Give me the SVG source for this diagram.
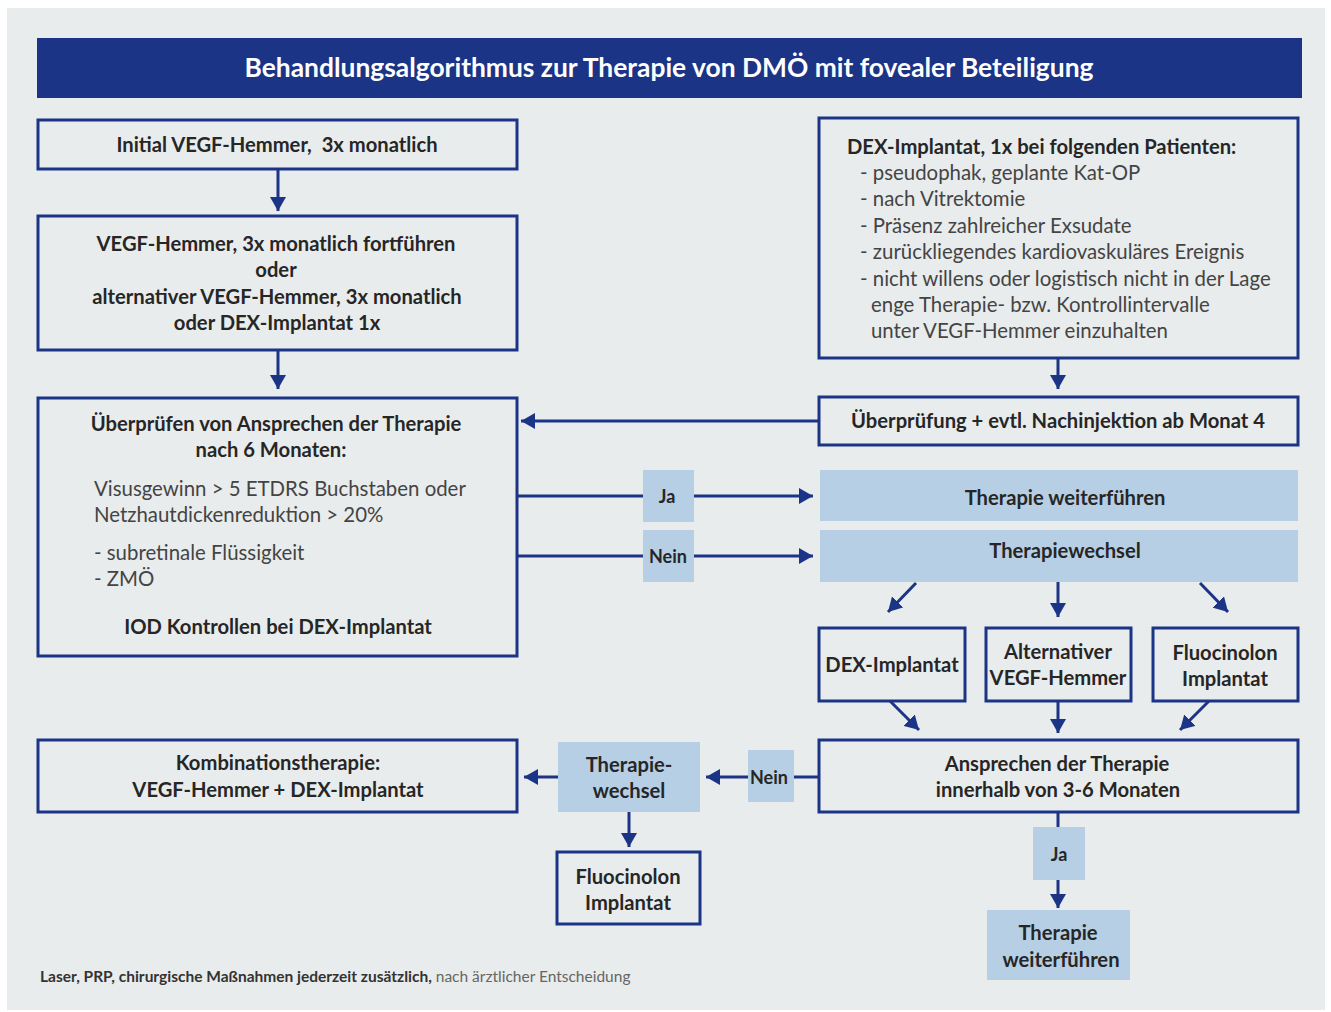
<svg xmlns="http://www.w3.org/2000/svg" width="1331" height="1012" viewBox="0 0 1331 1012">
<defs>
<marker id="ah" viewBox="0 0 14 16" refX="14" refY="8" markerWidth="14" markerHeight="16" markerUnits="userSpaceOnUse" orient="auto">
<path d="M0,0 L14,8 L0,16 Z" fill="#1b3486"/>
</marker>
<style>
.box{fill:none;stroke:#1b3486;stroke-width:3}
.lt{fill:#b6cfe4}
.c{stroke:#1b3486;stroke-width:3;fill:none}
.ca{stroke:#1b3486;stroke-width:3;fill:none;marker-end:url(#ah)}
.b{font-family:Lato,"Open Sans",sans-serif;font-weight:bold;font-size:20.2px;fill:#262626;text-anchor:middle}
.sm{font-size:18px}
.r{font-family:Lato,"Open Sans",sans-serif;font-size:20.4px;fill:#444}
</style>
</defs>
<rect x="0" y="0" width="1331" height="1012" fill="#ffffff"/>
<rect x="7" y="8" width="1318" height="1002" fill="#e9ecec"/>

<g id="title">
<rect x="37" y="38" width="1265" height="60" fill="#1b3486"/>
<text x="669" y="77" font-family="Lato,'Open Sans',sans-serif" font-weight="bold" font-size="26.4" fill="#ffffff" text-anchor="middle">Behandlungsalgorithmus zur Therapie von DMÖ mit fovealer Beteiligung</text>
</g>

<g id="connectors">
<line class="ca" x1="278" y1="169" x2="278" y2="211"/>
<line class="ca" x1="278" y1="350" x2="278" y2="389"/>
<line class="ca" x1="1058" y1="358" x2="1058" y2="389"/>
<line class="ca" x1="819" y1="421" x2="521" y2="421"/>
<line class="c" x1="517" y1="496" x2="643" y2="496"/>
<line class="ca" x1="694" y1="496" x2="813" y2="496"/>
<line class="c" x1="517" y1="556" x2="643" y2="556"/>
<line class="ca" x1="694" y1="556" x2="813" y2="556"/>
<line class="ca" x1="916" y1="583" x2="888" y2="612"/>
<line class="ca" x1="1058" y1="582" x2="1058" y2="617"/>
<line class="ca" x1="1200" y1="583" x2="1228" y2="612"/>
<line class="ca" x1="890" y1="701" x2="919" y2="730"/>
<line class="ca" x1="1058" y1="701" x2="1058" y2="733"/>
<line class="ca" x1="1209" y1="701" x2="1180" y2="730"/>
<line class="c" x1="819" y1="777" x2="794" y2="777"/>
<line class="ca" x1="748" y1="777" x2="706" y2="777"/>
<line class="ca" x1="558" y1="777" x2="524" y2="777"/>
<line class="ca" x1="629" y1="812" x2="629" y2="847"/>
<line class="c" x1="1058" y1="812" x2="1058" y2="827"/>
<line class="ca" x1="1058" y1="880" x2="1058" y2="908"/>
</g>

<g id="n-initial">
<rect class="box" x="38" y="120" width="479" height="49"/>
<text class="b" x="277" y="152">Initial VEGF-Hemmer,&#160; 3x monatlich</text>
</g>

<g id="n-continue">
<rect class="box" x="38" y="216" width="479" height="134"/>
<text class="b" x="276" y="251">VEGF-Hemmer, 3x monatlich fortführen</text>
<text class="b" x="276" y="277">oder</text>
<text class="b" x="277" y="304">alternativer VEGF-Hemmer, 3x monatlich</text>
<text class="b" x="277" y="330">oder DEX-Implantat 1x</text>
</g>

<g id="n-check6">
<rect class="box" x="38" y="398" width="479" height="258"/>
<text class="b" x="276" y="431">Überprüfen von Ansprechen der Therapie</text>
<text class="b" x="271" y="457">nach 6 Monaten:</text>
<text class="r" x="94" y="496">Visusgewinn &gt; 5 ETDRS Buchstaben oder</text>
<text class="r" x="94" y="522">Netzhautdickenreduktion &gt; 20%</text>
<text class="r" x="94" y="560">- subretinale Flüssigkeit</text>
<text class="r" x="94" y="586">- ZMÖ</text>
<text class="b" x="278" y="634">IOD Kontrollen bei DEX-Implantat</text>
</g>

<g id="n-dex-patients">
<rect class="box" x="819" y="118" width="479" height="240"/>
<text class="b" x="847" y="154" style="text-anchor:start">DEX-Implantat, 1x bei folgenden Patienten:</text>
<text class="r" x="860" y="180">- pseudophak, geplante Kat-OP</text>
<text class="r" x="860" y="206">- nach Vitrektomie</text>
<text class="r" x="860" y="233">- Präsenz zahlreicher Exsudate</text>
<text class="r" x="860" y="259">- zurückliegendes kardiovaskuläres Ereignis</text>
<text class="r" x="860" y="286">- nicht willens oder logistisch nicht in der Lage</text>
<text class="r" x="871" y="312">enge Therapie- bzw. Kontrollintervalle</text>
<text class="r" x="871" y="338">unter VEGF-Hemmer einzuhalten</text>
</g>

<g id="n-review4">
<rect class="box" x="819" y="397" width="479" height="48"/>
<text class="b" x="1058" y="428">Überprüfung + evtl. Nachinjektion ab Monat 4</text>
</g>

<g id="l-ja1">
<rect class="lt" x="643" y="470" width="51" height="52"/>
<text class="b sm" x="667" y="503">Ja</text>
</g>
<g id="l-nein1">
<rect class="lt" x="643" y="530" width="51" height="52"/>
<text class="b sm" x="668" y="563">Nein</text>
</g>

<g id="n-continue-therapy">
<rect class="lt" x="820" y="470" width="478" height="51"/>
<text class="b" x="1065" y="505">Therapie weiterführen</text>
</g>

<g id="n-switch">
<rect class="lt" x="820" y="530" width="478" height="52"/>
<text class="b" x="1065" y="558">Therapiewechsel</text>
</g>

<g id="n-dex">
<rect class="box" x="819" y="628" width="146" height="73"/>
<text class="b" x="892" y="672">DEX-Implantat</text>
</g>
<g id="n-alt">
<rect class="box" x="986" y="628" width="145" height="73"/>
<text class="b" x="1058" y="659">Alternativer</text>
<text class="b" x="1058" y="685">VEGF-Hemmer</text>
</g>
<g id="n-fluo1">
<rect class="box" x="1153" y="628" width="145" height="73"/>
<text class="b" x="1225" y="660">Fluocinolon</text>
<text class="b" x="1225" y="686">Implantat</text>
</g>

<g id="n-response">
<rect class="box" x="819" y="740" width="479" height="72"/>
<text class="b" x="1057" y="771">Ansprechen der Therapie</text>
<text class="b" x="1058" y="797">innerhalb von 3-6 Monaten</text>
</g>

<g id="l-nein2">
<rect class="lt" x="748" y="750" width="46" height="52"/>
<text class="b sm" x="769" y="784">Nein</text>
</g>

<g id="n-switch2">
<rect class="lt" x="558" y="742" width="142" height="70"/>
<text class="b" x="629" y="772">Therapie-</text>
<text class="b" x="629" y="798">wechsel</text>
</g>

<g id="n-combo">
<rect class="box" x="38" y="740" width="479" height="72"/>
<text class="b" x="278" y="770">Kombinationstherapie:</text>
<text class="b" x="278" y="797">VEGF-Hemmer + DEX-Implantat</text>
</g>

<g id="n-fluo2">
<rect class="box" x="557" y="852" width="143" height="72"/>
<text class="b" x="628" y="884">Fluocinolon</text>
<text class="b" x="628" y="910">Implantat</text>
</g>

<g id="l-ja2">
<rect class="lt" x="1033" y="827" width="52" height="53"/>
<text class="b sm" x="1059" y="861">Ja</text>
</g>

<g id="n-continue2">
<rect class="lt" x="987" y="910" width="143" height="70"/>
<text class="b" x="1058" y="940">Therapie</text>
<text class="b" x="1061" y="967">weiterführen</text>
</g>

<g id="footer">
<text x="40" y="982" font-family="Lato,'Open Sans',sans-serif" font-size="15.5" fill="#333"><tspan font-weight="bold">Laser, PRP, chirurgische Maßnahmen jederzeit zusätzlich,</tspan><tspan fill="#666"> nach ärztlicher Entscheidung</tspan></text>
</g>
</svg>
